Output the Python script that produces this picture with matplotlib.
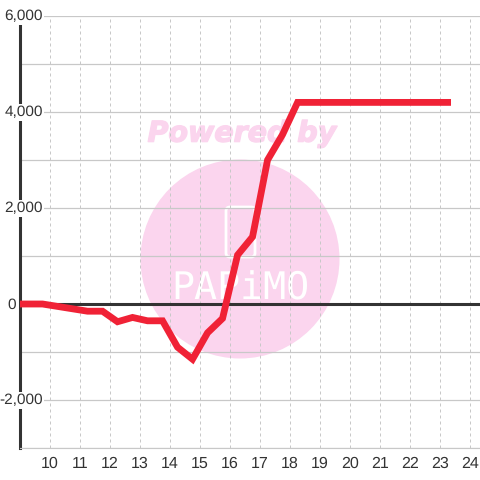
import matplotlib
matplotlib.use('Agg')
import matplotlib.pyplot as plt
import matplotlib.patheffects as pe
from matplotlib.patches import Circle, FancyBboxPatch
from matplotlib.transforms import blended_transform_factory

plt.rcParams['font.family'] = ['Liberation Sans', 'DejaVu Sans']
plt.rcParams['text.hinting'] = 'no_hinting'

x_vals = [9, 9.75, 10.25, 10.75, 11.25, 11.75, 12.25, 12.75, 13.25, 13.75, 14.25, 14.75,
          15.25, 15.75, 16.25, 16.75, 17.25, 17.75, 18.25, 23.25]
y_vals = [0, 0, -50, -100, -150, -150, -370, -280, -350, -350, -900, -1150,
          -600, -300, 1020, 1400, 3000, 3530, 4200, 4200]
x_ticks = list(range(10, 25))
y_major = [-2000, 0, 2000, 4000, 6000]
y_minor = [-3000, -1000, 1000, 3000, 5000]

fig = plt.figure(figsize=(4.8, 4.8), dpi=100)

# watermark goes behind the chart, in pixel coords
bg = fig.add_axes([0, 0, 1, 1], zorder=0)
bg.set_xlim(0, 480)
bg.set_ylim(480, 0)
bg.axis('off')
bg.add_patch(Circle((240, 259), 99.5, color='#fbd5ee', lw=0))
bg.text(242, 134, 'Powered by', color='#fbd5ee', fontsize=20.5, fontweight='bold', fontstyle='italic',
        family='DejaVu Sans', ha='center', va='center',
        path_effects=[pe.withStroke(linewidth=1, foreground='#fbd5ee')])
bg.add_patch(FancyBboxPatch((226, 207), 29, 50, boxstyle='round,pad=0,rounding_size=4',
                            fc='none', ec='white', lw=2))
bg.text(240, 289, 'PAPiMO', color='white', fontsize=27.5, family='DejaVu Sans Mono', ha='center', va='center')

ax = fig.add_axes([20 / 480, 32 / 480, 460 / 480, 432 / 480], zorder=1)
ax.patch.set_visible(False)
ax.set_xlim(9, 24.33)
ax.set_ylim(-3000, 6000)

for s in ['top', 'right']:
    ax.spines[s].set_visible(False)
ax.spines['bottom'].set_color('#c8c8c8')
ax.spines['bottom'].set_linewidth(0.8)
ax.spines['left'].set_color('#333333')
ax.spines['left'].set_linewidth(2.2)
ax.spines['left'].set_zorder(2)

ax.set_xticks(x_ticks)
ax.set_yticks(y_major + y_minor)
ax.set_yticklabels([])
ax.tick_params(axis='both', length=0)
ax.tick_params(axis='x', labelsize=11.5, labelcolor='#333333', pad=6)
ax.grid(axis='y', color='#c8c8c8', lw=0.9, zorder=1)
ax.grid(axis='x', color='#c8c8c8', lw=0.72, ls=(0, (3, 3)), zorder=1)
ax.set_axisbelow(True)

ax.axhline(0, color='#333333', lw=2.2, zorder=3)
ax.plot(x_vals, y_vals, color='#f02236', lw=4.9, solid_joinstyle='miter', solid_capstyle='projecting', zorder=4)

# y labels sit over the left axis line with a white box behind them
trans = blended_transform_factory(ax.transAxes, ax.transData)
for v in y_major:
    right = 23 / 460 if v != 0 else -4 / 460
    ax.text(right, v - 12, f'{v:,}', transform=trans, ha='right', va='center', fontsize=11.1, color='#333333',
            clip_on=False, zorder=5,
            bbox=dict(fc='white', ec='none', pad=1))

fig.savefig('out.png', dpi=100)
